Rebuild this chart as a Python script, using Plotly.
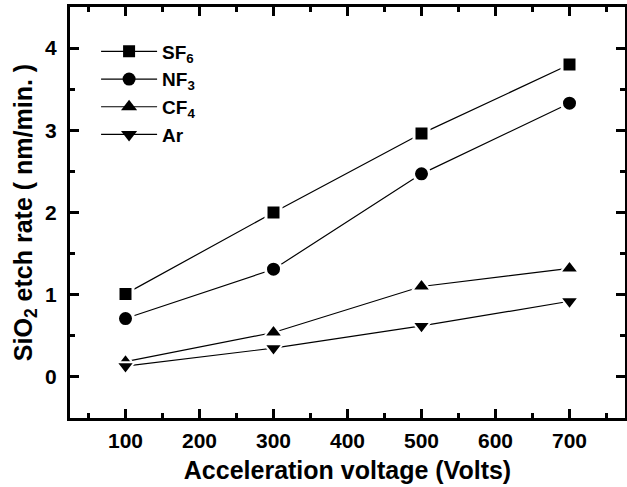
import plotly.graph_objects as go

voltage = [100, 300, 500, 700]
sf6 = [1.01, 2.00, 2.96, 3.80]
nf3 = [0.71, 1.31, 2.47, 3.33]
cf4 = [0.185, 0.54, 1.10, 1.32]
ar = [0.13, 0.35, 0.62, 0.92]

series = [
    ("<b>SF<sub>6</sub></b>", sf6, "square", 15, 3),
    ("<b>NF<sub>3</sub></b>", nf3, "circle", 16, 3),
    ("<b>CF<sub>4</sub></b>", cf4, "triangle-up", 16, 2),
    ("<b>Ar</b>", ar, "triangle-down", 16, 2),
]

FONT = "Liberation Sans, Arial, sans-serif"

fig = go.Figure()
for i, (name, vals, sym, size, lw) in enumerate(series):
    fig.add_trace(go.Scatter(
        x=voltage, y=vals, name=name, mode="lines+markers",
        line=dict(color="black", width=1.2),
        marker=dict(symbol=sym, size=size, color="black",
                    line=dict(color="white", width=lw)),
        showlegend=False,
    ))
# legend entries (no data, legend only)
for i, (name, vals, sym, size, lw) in enumerate(series):
    fig.add_trace(go.Scatter(
        x=[None], y=[None], name=name, mode="lines+markers",
        line=dict(color="black", width=1.2),
        marker=dict(symbol=sym, size=size - lw, color="black", line=dict(width=0)),
        legendgroup=f"g{i}",
    ))

axis_common = dict(
    showline=True, linecolor="black", linewidth=3, mirror="ticks",
    ticks="inside", tickcolor="black", tickwidth=2.5,
    showgrid=False, zeroline=False,
    tickfont=dict(family=FONT, size=21, color="black", weight="bold"),
)

fig.update_xaxes(
    range=[25, 775], tick0=0, dtick=100, ticklen=9,
    minor=dict(dtick=50, tick0=0, ticklen=5, ticks="inside", tickcolor="black", tickwidth=2.5),
    title=dict(text="Acceleration voltage (Volts)",
               font=dict(family=FONT, size=25, color="black", weight="bold"),
               standoff=11),
    ticklabelstandoff=2,
    **axis_common,
)
fig.update_yaxes(
    range=[-0.5, 4.5], tick0=0, dtick=1, ticklen=9,
    minor=dict(dtick=0.5, tick0=0, ticklen=5, ticks="inside", tickcolor="black", tickwidth=2.5),
    title=dict(text="SiO<sub>2</sub> etch rate ( nm/min. )",
               font=dict(family=FONT, size=25, color="black", weight="bold"),
               standoff=6),
    ticklabelstandoff=6,
    **axis_common,
)

fig.update_layout(
    width=632, height=487,
    margin=dict(l=70, r=4, t=7, b=69),
    paper_bgcolor="white", plot_bgcolor="white",
    showlegend=True,
    legend=dict(x=0.047, y=0.938, xanchor="left", yanchor="top",
                bgcolor="rgba(0,0,0,0)", tracegroupgap=0, itemwidth=56,
                font=dict(family=FONT, size=19, color="black", weight="bold")),
)

fig.write_html("out.html",
               post_script="document.body.style.overflow='hidden';document.documentElement.style.overflow='hidden';")
